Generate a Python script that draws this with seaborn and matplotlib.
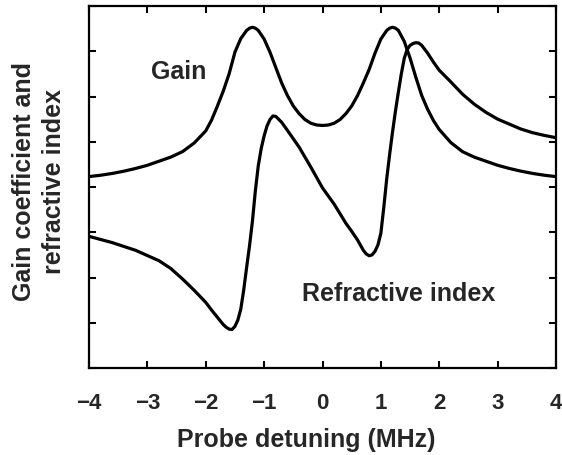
import matplotlib
matplotlib.use("Agg")
import matplotlib.pyplot as plt
import seaborn as sns
import pandas as pd

# Gain curve (x in MHz, y in arbitrary units; axis spans 0..8)
gain_x = [-4.0, -3.8, -3.6, -3.4, -3.2, -3.0, -2.8, -2.6, -2.4, -2.2, -2.0,
          -1.9, -1.8, -1.7, -1.6, -1.5, -1.4, -1.3, -1.25, -1.2, -1.15, -1.1,
          -1.0, -0.9, -0.8, -0.7, -0.6, -0.5, -0.4, -0.3, -0.2, -0.1,
          0.0, 0.1, 0.2, 0.3, 0.4, 0.5, 0.6, 0.7, 0.8, 0.9, 1.0, 1.1, 1.15,
          1.2, 1.25, 1.3, 1.4, 1.5, 1.6, 1.7, 1.8, 1.9, 2.0, 2.2, 2.4, 2.6,
          2.8, 3.0, 3.2, 3.4, 3.6, 3.8, 4.0]
gain_y = [4.23, 4.26, 4.30, 4.35, 4.41, 4.48, 4.57, 4.66, 4.78, 4.97, 5.24,
          5.48, 5.79, 6.12, 6.50, 6.98, 7.28, 7.46, 7.51, 7.53, 7.51, 7.46,
          7.27, 6.98, 6.64, 6.30, 6.02, 5.79, 5.62, 5.49, 5.41, 5.37,
          5.36, 5.37, 5.41, 5.49, 5.62, 5.79, 6.02, 6.30, 6.60, 6.96, 7.27, 7.46, 7.51,
          7.53, 7.51, 7.46, 7.22, 6.85, 6.42, 6.02, 5.72, 5.47, 5.27, 4.98, 4.78, 4.66,
          4.57, 4.48, 4.41, 4.35, 4.30, 4.26, 4.23]

# Refractive index curve
refr_x = [-4.0, -3.6, -3.2, -2.8, -2.6, -2.4, -2.2, -2.0, -1.9, -1.8, -1.7,
          -1.65, -1.6, -1.55, -1.5, -1.45, -1.4, -1.35, -1.3, -1.25, -1.2,
          -1.15, -1.1, -1.05, -1.0, -0.95, -0.9, -0.85, -0.8, -0.7, -0.6,
          -0.4, -0.2, 0.0, 0.2, 0.4, 0.5, 0.6, 0.7, 0.75, 0.8, 0.85, 0.9,
          0.95, 1.0, 1.05, 1.1, 1.15, 1.2, 1.25, 1.3, 1.35, 1.4, 1.45, 1.5,
          1.55, 1.6, 1.65, 1.7, 1.8, 1.9, 2.0, 2.2, 2.4, 2.6, 2.8, 3.0, 3.2,
          3.4, 3.6, 3.8, 4.0]
refr_y = [2.91, 2.77, 2.60, 2.37, 2.20, 1.97, 1.72, 1.45, 1.28, 1.12, 0.96,
          0.90, 0.86, 0.85, 0.92, 1.06, 1.30, 1.72, 2.22, 2.70, 3.25,
          3.92, 4.47, 4.85, 5.13, 5.35, 5.49, 5.57, 5.56, 5.43, 5.25,
          4.88, 4.44, 3.98, 3.62, 3.20, 3.02, 2.83, 2.60, 2.52, 2.48, 2.50, 2.58,
          2.72, 2.98, 3.55, 4.18, 4.72, 5.22, 5.68, 6.10, 6.50, 6.84, 7.04, 7.13,
          7.17, 7.19, 7.18, 7.13, 6.96, 6.76, 6.58, 6.32, 6.05, 5.83, 5.65, 5.50,
          5.39, 5.28, 5.20, 5.14, 5.09]

x_ticks = [-4, -3, -2, -1, 0, 1, 2, 3, 4]
y_ticks = [0, 1, 2, 3, 4, 5, 6, 7, 8]

x_label = "Probe detuning (MHz)"
y_label = "Gain coefficient and\nrefractive index"
gain_text = "Gain"
refr_text = "Refractive index"

sns.set_style("white")
plt.rcParams['font.family'] = ['Liberation Sans', 'DejaVu Sans']
plt.rcParams['font.weight'] = 'bold'

fig = plt.figure(figsize=(5.62, 4.56), dpi=100)
ax = fig.add_axes([89/562, 1 - 369/456, 467/562, 362/456])

gain_df = pd.DataFrame({"x": gain_x, "y": gain_y})
refr_df = pd.DataFrame({"x": refr_x, "y": refr_y})
sns.lineplot(data=gain_df, x="x", y="y", ax=ax, color="black", lw=2.3, sort=False)
sns.lineplot(data=refr_df, x="x", y="y", ax=ax, color="black", lw=2.3, sort=False)

ax.set_xlim(-4, 4)
ax.set_ylim(0, 8)
ax.set_xticks(x_ticks)
ax.set_xticklabels([str(t).replace("-", "\u2212") for t in x_ticks])
ax.set_yticks(y_ticks)
ax.set_yticklabels([])
ax.tick_params(direction="in", length=5, width=1.5, color="black",
               top=True, right=True, bottom=True, left=True,
               labelsize=16, pad=17)
for lab in ax.get_xticklabels():
    lab.set_fontweight("bold")
for s in ax.spines.values():
    s.set_linewidth(1.6)
    s.set_color("black")

ax.set_xlabel(x_label, fontsize=18, fontweight="bold")
ax.xaxis.set_label_coords(0.465, -0.163)
ax.set_ylabel(y_label, fontsize=18, fontweight="bold", linespacing=1.3)
ax.yaxis.set_label_coords(-0.049, 0.517)

ax.text(-2.46, 6.56, gain_text, fontsize=18, fontweight="bold",
        ha="center", va="center")
ax.text(1.31, 1.66, refr_text, fontsize=18, fontweight="bold",
        ha="center", va="center")

fig.savefig("out.png", dpi=100)
